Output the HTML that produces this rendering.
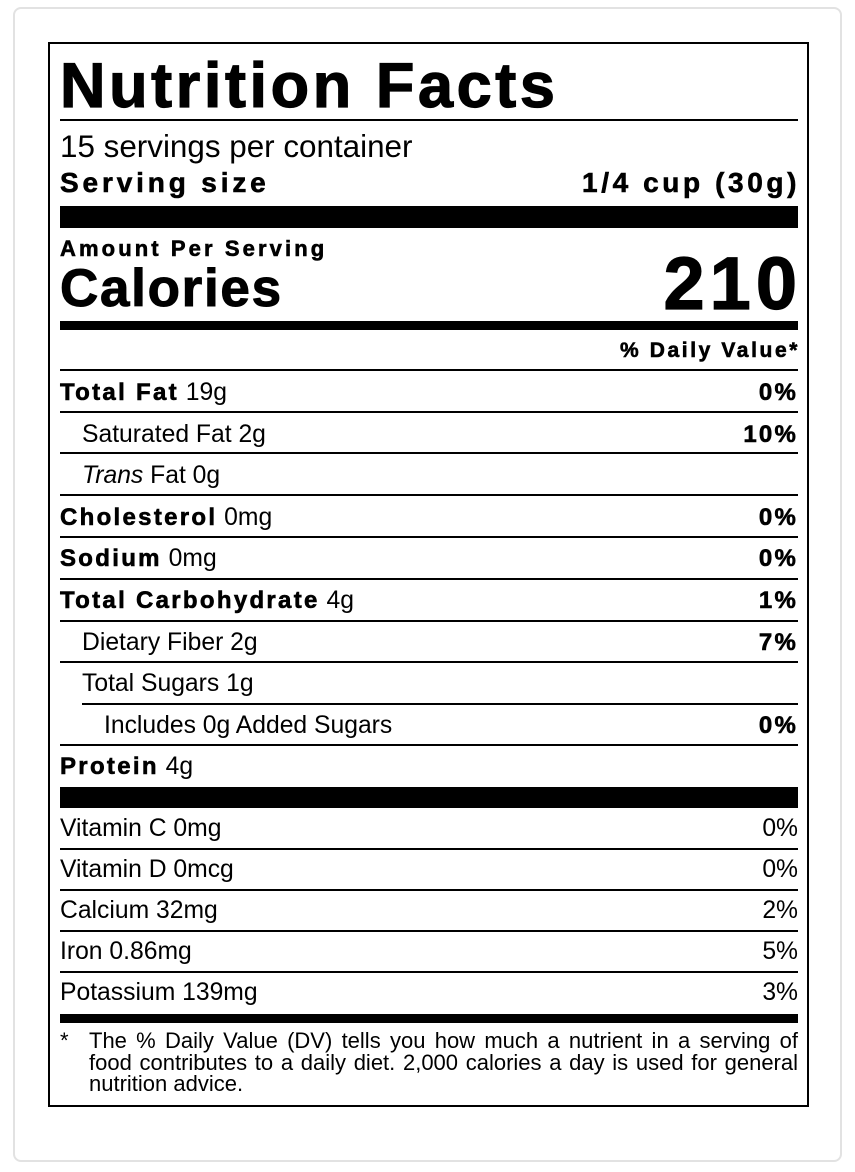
<!DOCTYPE html>
<html><head><meta charset="utf-8"><style>
html,body{margin:0;padding:0;background:#fff;}
body{width:855px;height:1172px;position:relative;overflow:hidden;font-family:"Liberation Sans",Arial,sans-serif;color:#000;}
.card{position:absolute;left:13px;top:7px;width:829px;height:1155px;border:2px solid #e2e2e2;border-radius:8px;box-sizing:border-box;}
.box{position:absolute;left:48px;top:42px;width:761px;height:1065px;border:2px solid #000;box-sizing:border-box;}
.t{position:absolute;white-space:nowrap;line-height:1.15;}
.r{right:57px;text-align:right;}
.h{font-weight:bold;-webkit-text-stroke:0.6px #000;}
.ln{position:absolute;left:60px;width:738px;height:2px;background:#000;}
.bar{position:absolute;left:60px;width:738px;background:#000;}
.f24{font-size:24.7px;}
.lb{letter-spacing:2.3px;font-size:24px;}
.pc{letter-spacing:2.2px;font-size:24px;}
</style></head><body>
<div class="card"></div>
<div class="box"></div>

<div class="t h" style="left:60px;top:50px;font-size:63px;letter-spacing:3.6px;-webkit-text-stroke:1.2px #000;">Nutrition Facts</div>
<div class="ln" style="top:119px;"></div>
<div class="t" style="left:60px;top:129px;font-size:31.4px;">15 servings per container</div>
<div class="t h" style="left:60px;top:167px;font-size:28px;letter-spacing:3.85px;">Serving size</div>
<div class="t h r" style="top:167px;font-size:28px;letter-spacing:3.6px;right:55px;">1/4 cup (30g)</div>
<div class="bar" style="top:206px;height:22px;"></div>
<div class="t h" style="left:60px;top:236px;font-size:22px;letter-spacing:3.1px;">Amount Per Serving</div>
<div class="t h" style="left:60px;top:259px;font-size:53px;letter-spacing:1.7px;-webkit-text-stroke:1px #000;">Calories</div>
<div class="t h r" style="top:241px;font-size:74px;letter-spacing:5px;right:53px;-webkit-text-stroke:1.2px #000;">210</div>
<div class="bar" style="top:321px;height:9px;"></div>
<div class="t h r" style="top:339px;font-size:21px;letter-spacing:2.6px;right:55px;">% Daily Value*</div>
<div class="ln" style="top:369px;"></div>

<div class="t f24" style="left:60px;top:379px;"><span class="h lb">Total Fat</span> 19g</div>
<div class="t h r pc" style="top:379px;">0%</div>
<div class="ln" style="top:411px;"></div>
<div class="t f24" style="left:82px;top:421px;">Saturated Fat 2g</div>
<div class="t h r pc" style="top:421px;">10%</div>
<div class="ln" style="top:452px;"></div>
<div class="t f24" style="left:82px;top:462px;"><i>Trans</i> Fat 0g</div>
<div class="ln" style="top:494px;"></div>
<div class="t f24" style="left:60px;top:504px;"><span class="h lb">Cholesterol</span> 0mg</div>
<div class="t h r pc" style="top:504px;">0%</div>
<div class="ln" style="top:536px;"></div>
<div class="t f24" style="left:60px;top:545px;"><span class="h lb">Sodium</span> 0mg</div>
<div class="t h r pc" style="top:545px;">0%</div>
<div class="ln" style="top:578px;"></div>
<div class="t f24" style="left:60px;top:587px;"><span class="h lb">Total Carbohydrate</span> 4g</div>
<div class="t h r pc" style="top:587px;">1%</div>
<div class="ln" style="top:620px;"></div>
<div class="t f24" style="left:82px;top:629px;">Dietary Fiber 2g</div>
<div class="t h r pc" style="top:629px;">7%</div>
<div class="ln" style="top:661px;"></div>
<div class="t f24" style="left:82px;top:670px;">Total Sugars 1g</div>
<div class="ln" style="top:703px;left:82px;width:716px;"></div>
<div class="t f24" style="left:104px;top:712px;">Includes 0g Added Sugars</div>
<div class="t h r pc" style="top:712px;">0%</div>
<div class="ln" style="top:744px;"></div>
<div class="t f24" style="left:60px;top:753px;"><span class="h lb">Protein</span> 4g</div>
<div class="bar" style="top:787px;height:21px;"></div>

<div class="t f24" style="left:60px;top:815px;">Vitamin C 0mg</div>
<div class="t f24 r" style="top:815px;">0%</div>
<div class="ln" style="top:848px;"></div>
<div class="t f24" style="left:60px;top:856px;">Vitamin D 0mcg</div>
<div class="t f24 r" style="top:856px;">0%</div>
<div class="ln" style="top:889px;"></div>
<div class="t f24" style="left:60px;top:897px;">Calcium 32mg</div>
<div class="t f24 r" style="top:897px;">2%</div>
<div class="ln" style="top:930px;"></div>
<div class="t f24" style="left:60px;top:938px;">Iron 0.86mg</div>
<div class="t f24 r" style="top:938px;">5%</div>
<div class="ln" style="top:971px;"></div>
<div class="t f24" style="left:60px;top:979px;">Potassium 139mg</div>
<div class="t f24 r" style="top:979px;">3%</div>
<div class="bar" style="top:1014px;height:9px;"></div>

<div class="t" style="left:60px;top:1028px;font-size:22px;">*</div>
<div style="position:absolute;left:89px;top:1030px;width:709px;font-size:22px;line-height:21.5px;text-align:justify;">The % Daily Value (DV) tells you how much a nutrient in a serving of food contributes to a daily diet. 2,000 calories a day is used for general nutrition advice.</div>
</body></html>
